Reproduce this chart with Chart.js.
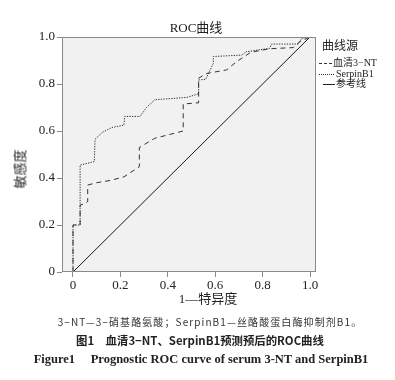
<!DOCTYPE html>
<html><head><meta charset="utf-8">
<script src="https://cdn.jsdelivr.net/npm/chart.js@4.4.1/dist/chart.umd.min.js"></script>
<style>
html,body{margin:0;padding:0;background:#fff;}
#wrap{position:relative;width:395px;height:380px;overflow:hidden;background:#fff;}
canvas{position:absolute;left:0;top:0;}
.t{position:absolute;white-space:nowrap;color:#222;line-height:1;transform:translate(-50%,-50%);}
.l{position:absolute;white-space:nowrap;color:#222;line-height:1;transform:translateY(-50%);}
.serif{font-family:"Liberation Serif","Noto Sans CJK SC",serif;}
.sans{font-family:"Noto Sans CJK SC","Noto Sans",sans-serif;}
.sample{position:absolute;height:0;}
</style></head><body>
<div id="wrap">
<canvas id="c" width="395" height="380"></canvas>
<div class="t serif" style="left:196px;top:27px;font-size:13px">ROC曲线</div>
<div class="t serif" style="left:208px;top:298px;font-size:13px">1—特异度</div>
<div class="t serif" style="left:20px;top:169px;font-size:13px;transform:translate(-50%,-50%) rotate(-90deg)">敏感度</div>
<div class="l serif" style="left:322px;top:46px;font-size:12px">曲线源</div>
<div class="sample" style="left:319px;top:63px;width:13px;border-top:1px dashed #333"></div>
<div class="l serif" style="left:333px;top:63px;font-size:10px">血清3−NT</div>
<div class="sample" style="left:319px;top:74px;width:15px;border-top:1px dotted #333"></div>
<div class="l serif" style="left:336px;top:74px;font-size:10px">SerpinB1</div>
<div class="sample" style="left:323px;top:84px;width:12px;border-top:1px solid #222"></div>
<div class="l serif" style="left:336px;top:84px;font-size:10px">参考线</div>
<div class="t sans" style="left:210px;top:322px;font-size:10px;letter-spacing:1.1px;color:#333">3−NT—3−硝基酪氨酸；SerpinB1—丝酪酸蛋白酶抑制剂B1。</div>
<div class="t sans" style="left:200px;top:341px;font-size:11.4px;font-weight:bold">图1　血清3−NT、SerpinB1预测预后的ROC曲线</div>
<div class="t serif" style="left:201px;top:359px;font-size:12.5px;font-weight:bold">Figure1　 Prognostic ROC curve of serum 3-NT and SerpinB1</div>
</div>
<script>
const serpinX=[0,0,0.03,0.03,0.09,0.093,0.125,0.165,0.215,0.218,0.283,0.31,0.345,0.48,0.52,0.53,0.53,0.56,0.592,0.592,0.712,0.73,0.83,0.838,0.95,0.965,1];
const serpinY=[0,0.20,0.20,0.455,0.47,0.565,0.595,0.615,0.625,0.662,0.662,0.70,0.733,0.743,0.755,0.76,0.817,0.82,0.888,0.917,0.923,0.937,0.952,0.97,0.97,0.994,1];
const ntX=[0,0,0.03,0.03,0.05,0.062,0.062,0.10,0.16,0.215,0.28,0.28,0.345,0.465,0.465,0.53,0.53,0.565,0.648,0.69,0.75,0.83,0.93,0.957,1];
const ntY=[0,0.20,0.20,0.285,0.29,0.30,0.37,0.38,0.39,0.405,0.448,0.53,0.569,0.60,0.715,0.72,0.825,0.845,0.86,0.895,0.935,0.95,0.955,0.98,1];
const refX=[0,1];
const refY=[0,1];
const xTicks=[0,0.2,0.4,0.6,0.8,1.0];
const yTicks=[0,0.2,0.4,0.6,0.8,1.0];
const seriesNames=['血清3−NT','SerpinB1','参考线'];

const zip=(xs,ys)=>xs.map((x,i)=>({x:x,y:ys[i]}));
const fmt=v=>v===0?'0':Number(v).toFixed(1);

const framePlugin={
  id:'frame',
  beforeDraw(ch){
    const {ctx,chartArea:a}=ch;
    ctx.save();
    ctx.fillStyle='#f1f1f1';
    ctx.fillRect(a.left,a.top,a.right-a.left,a.bottom-a.top);
    ctx.restore();
  },
  afterDatasetsDraw(ch){
    const {ctx,chartArea:a}=ch;
    ctx.save();
    ctx.strokeStyle='#8a8a8a';
    ctx.lineWidth=1;
    ctx.strokeRect(Math.round(a.left)+0.5,Math.round(a.top)+0.5,Math.round(a.right-a.left)-1,Math.round(a.bottom-a.top)-1);
    ctx.restore();
  }
};

const tickFont={family:'"Liberation Serif", serif',size:13};

new Chart(document.getElementById('c'),{
  type:'scatter',
  data:{datasets:[
    {label:seriesNames[0],data:zip(ntX,ntY),showLine:true,borderColor:'#333',borderWidth:1,borderDash:[5,4],pointRadius:0,tension:0,fill:false},
    {label:seriesNames[1],data:zip(serpinX,serpinY),showLine:true,borderColor:'#333',borderWidth:1,borderDash:[1.3,1.3],pointRadius:0,tension:0,fill:false},
    {label:seriesNames[2],data:zip(refX,refY),showLine:true,borderColor:'#1a1a1a',borderWidth:1,pointRadius:0,tension:0,fill:false}
  ]},
  options:{
    responsive:false,animation:false,devicePixelRatio:1,
    layout:{padding:{left:0,top:37,right:79,bottom:86}},
    plugins:{legend:{display:false},title:{display:false},tooltip:{enabled:false}},
    scales:{
      x:{type:'linear',min:-0.0464,max:1.0253,
        afterBuildTicks:s=>{s.ticks=xTicks.map(v=>({value:v}));},
        afterFit:s=>{s.height=22;},
        ticks:{callback:fmt,font:tickFont,color:'#222',padding:1,maxRotation:0,autoSkip:false},
        grid:{drawOnChartArea:false,drawTicks:true,tickLength:5,color:'#8a8a8a'},
        border:{display:false}},
      y:{type:'linear',min:0,max:1,
        afterBuildTicks:s=>{s.ticks=yTicks.map(v=>({value:v}));},
        afterFit:s=>{s.width=62;},
        ticks:{callback:fmt,font:tickFont,color:'#222',padding:2,autoSkip:false},
        grid:{drawOnChartArea:false,drawTicks:true,tickLength:5,color:'#8a8a8a'},
        border:{display:false}}
    }
  },
  plugins:[framePlugin]
});
</script>
</body></html>
